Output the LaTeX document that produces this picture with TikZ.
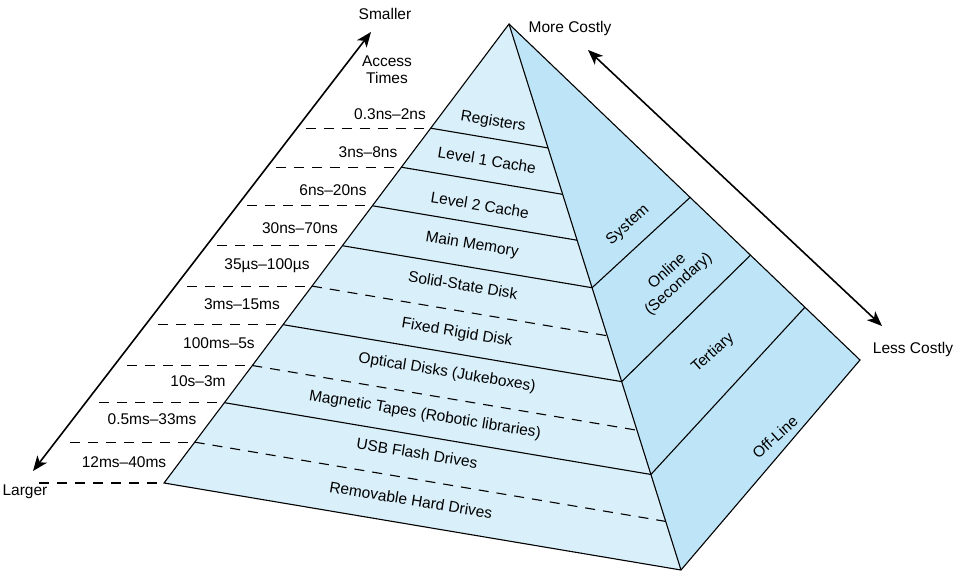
\documentclass[tikz,border=0pt]{standalone}
\usepackage{fontspec}
\setmainfont{Liberation Sans}
\usetikzlibrary{arrows.meta,calc}
\definecolor{frontface}{HTML}{D9EFF9}
\definecolor{sideface}{HTML}{BEE5F7}
\tikzset{tierline/.style={draw=black,line width=1.1pt},tierdash/.style={tierline,dash pattern=on 10pt off 8pt},hierarr/.style={{Stealth[length=15pt,width=12pt,inset=4pt]}-{Stealth[length=15pt,width=12pt,inset=4pt]},line width=1.6pt},tierlabel/.style={font=\fontsize{15.5}{17}\selectfont,rotate=-9.3,inner sep=0pt},sidelabel/.style={font=\fontsize{15.5}{17}\selectfont,rotate=42,inner sep=0pt,align=center},timelabel/.style={font=\fontsize{15.5}{17}\selectfont,inner sep=0pt,align=center}}

\begin{document}
\begin{tikzpicture}[x=1pt,y=-1pt]
\useasboundingbox (0,0) rectangle (963,575);
\coordinate (apex) at (509,24);
\coordinate (fl) at (164,483);
\coordinate (fr) at (681,570);
\coordinate (sr) at (860,360);
\fill[frontface] (apex)--(fl)--(fr)--cycle;
\fill[sideface] (apex)--(fr)--(sr)--cycle;
\foreach \n/\t in {1/0.227,2/0.312,3/0.396,4/0.483,5/0.571,6/0.655,7/0.744,8/0.825,9/0.911}{
  \coordinate (l\n) at ($(apex)!\t!(fl)$);
  \coordinate (r\n) at ($(apex)!\t!(fr)$);
}
\coordinate (s1) at ($(apex)!0.516!(sr)$);
\coordinate (s2) at ($(apex)!0.688!(sr)$);
\coordinate (s3) at ($(apex)!0.843!(sr)$);
\foreach \n in {1,2,3,4,6,8}{\draw[tierline] (l\n)--(r\n);}
\foreach \n in {5,7,9}{\draw[tierdash] (l\n)--(r\n);}
\foreach \n in {1,...,9}{\draw[tierdash] ($(l\n)+(-125,0)$)--(l\n);}
\draw[tierdash] ($(fl)+(-125,0)$)--(fl);
\draw[tierline] (r4)--(s1);
\draw[tierline] (r6)--(s2);
\draw[tierline] (r8)--(s3);
\draw[tierline,line join=miter] (apex)--(fl)--(fr)--(sr)--cycle;
\draw[tierline] (apex)--(fr);
\node[tierlabel] (reg) at (493,122) {Registers};
\node[tierlabel] (lone) at (487,160) {Level 1 Cache};
\node[tierlabel] (ltwo) at (480,205) {Level 2 Cache};
\node[tierlabel] (mem) at (472,245) {Main Memory};
\node[tierlabel] (ssd) at (463,285) {Solid-State Disk};
\node[tierlabel] (hdd) at (457,333) {Fixed Rigid Disk};
\node[tierlabel] (opt) at (447,373) {Optical Disks (Jukeboxes)};
\node[tierlabel] (tape) at (425,415) {Magnetic Tapes (Robotic libraries)};
\node[tierlabel] (usb) at (417,453) {USB Flash Drives};
\node[tierlabel] (rem) at (411,500) {Removable Hard Drives};
\node[sidelabel] (sys) at (628,225) {System};
\node[sidelabel] (onl) at (673,278) {Online\\(Secondary)};
\node[sidelabel] (ter) at (713,353) {Tertiary};
\node[sidelabel] (off) at (775,437) {Off-Line};
\node[timelabel] (t1) at (390,114) {0.3ns–2ns};
\node[timelabel] (t2) at (368,152) {3ns–8ns};
\node[timelabel] (t3) at (333,190) {6ns–20ns};
\node[timelabel] (t4) at (300,228) {30ns–70ns};
\node[timelabel] (t5) at (267,266) {35µs–100µs};
\node[timelabel] (t6) at (242,304) {3ms–15ms};
\node[timelabel] (t7) at (219,343) {100ms–5s};
\node[timelabel] (t8) at (198,381) {10s–3m};
\node[timelabel] (t9) at (152,419) {0.5ms–33ms};
\node[timelabel] (t10) at (124,462) {12ms–40ms};
\node[timelabel] (acc) at (387,70) {Access\\Times};
\node[timelabel] (small) at (385,14) {Smaller};
\node[timelabel] (large) at (25,492) {Larger};
\node[timelabel] (more) at (570,28) {More Costly};
\node[timelabel] (less) at (913,349) {Less Costly};
\coordinate (ttop) at (371,32);
\coordinate (tbot) at (33,471);
\coordinate (ctop) at (588,50);
\coordinate (cbot) at (882,326);
\draw[hierarr] (tbot)--(ttop);
\draw[hierarr] (ctop)--(cbot);
\end{tikzpicture}
\end{document}
